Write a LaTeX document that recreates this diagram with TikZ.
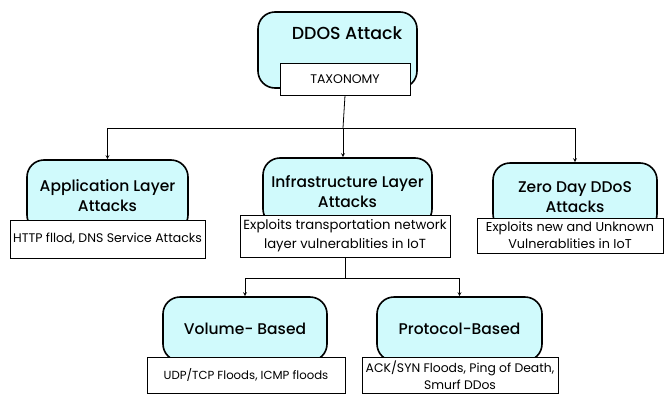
\documentclass[tikz,border=0pt]{standalone}
\usepackage{fontspec}
\setmainfont{Poppins}
\newfontfamily\headfont{Poppins Medium}
\usepackage{tikz}

\definecolor{boxcyan}{RGB}{208,250,252}

\tikzset{
	catbox/.style={draw,line width=1.6pt,fill=boxcyan,rounded corners=17pt,align=center,font=\headfont\fontsize{15.5}{20}\selectfont},
	descbox/.style={draw,line width=0.8pt,fill=white,align=center,inner sep=1pt,font=\fontsize{12.5}{19}\selectfont},
}

\begin{document}
\begin{tikzpicture}[x=1pt,y=-1pt]
\useasboundingbox[fill=white] (0,0) rectangle (670,394);
% top
\node[catbox,minimum width=159pt,minimum height=76pt] (ddos) at (337.5,50) {};
\node[font=\headfont\fontsize{17.4}{22}\selectfont] (title) at (347,33) {DDOS Attack};
\node[descbox,minimum width=130pt,minimum height=32pt,font=\fontsize{12.5}{15}\selectfont] (taxonomy) at (345,79) {TAXONOMY};
% categories
\node[catbox,minimum width=161pt,minimum height=72pt] (app) at (107.5,196) {Application Layer\\Attacks};
\node[descbox,minimum width=195pt,minimum height=38pt] (appdesc) at (107.5,239) {HTTP fllod, DNS Service Attacks};
\node[catbox,minimum width=169pt,minimum height=68pt] (infra) at (347.5,192) {Infrastructure Layer\\Attacks};
\node[descbox,minimum width=210pt,minimum height=42pt,font=\fontsize{13.2}{19}\selectfont] (infradesc) at (345,236) {Exploits transportation network\\layer vulnerablities in IoT};
\node[catbox,minimum width=164pt,minimum height=68pt] (zero) at (575,197) {Zero Day DDoS\\Attacks};
\node[descbox,minimum width=186pt,minimum height=35pt,font=\fontsize{12.8}{17}\selectfont] (zerodesc) at (570,235.5) {Exploits new and Unknown\\Vulnerablities in IoT};
% infrastructure types
\node[catbox,minimum width=164pt,minimum height=64pt] (volume) at (245,329) {Volume- Based};
\node[descbox,minimum width=198pt,minimum height=36pt,font=\fontsize{11.7}{16}\selectfont] (volumedesc) at (246,375) {UDP/TCP Floods, ICMP floods};
\node[catbox,minimum width=165pt,minimum height=64pt] (protocol) at (459.5,329) {Protocol-Based};
\node[descbox,minimum width=196pt,minimum height=36pt,font=\fontsize{12.4}{17}\selectfont] (protocoldesc) at (460,375) {ACK/SYN Floods, Ping of Death,\\Smurf DDos};
% connectors
\coordinate (split1) at (343,128);
\coordinate (split2) at (345,278);
\draw[line width=0.8pt] (taxonomy.south) -- (split1);
\draw[line width=0.8pt,-stealth] (split1) -| (app.north);
\draw[line width=0.8pt,-stealth] (split1) -- (split1 |- infra.north);
\draw[line width=0.8pt,-stealth] (split1) -| (zero.north);
\draw[line width=0.8pt] (infradesc.south) -- (split2);
\draw[line width=0.8pt,-stealth] (split2) -| (volume.north);
\draw[line width=0.8pt,-stealth] (split2) -| (protocol.north);
\end{tikzpicture}
\end{document}
